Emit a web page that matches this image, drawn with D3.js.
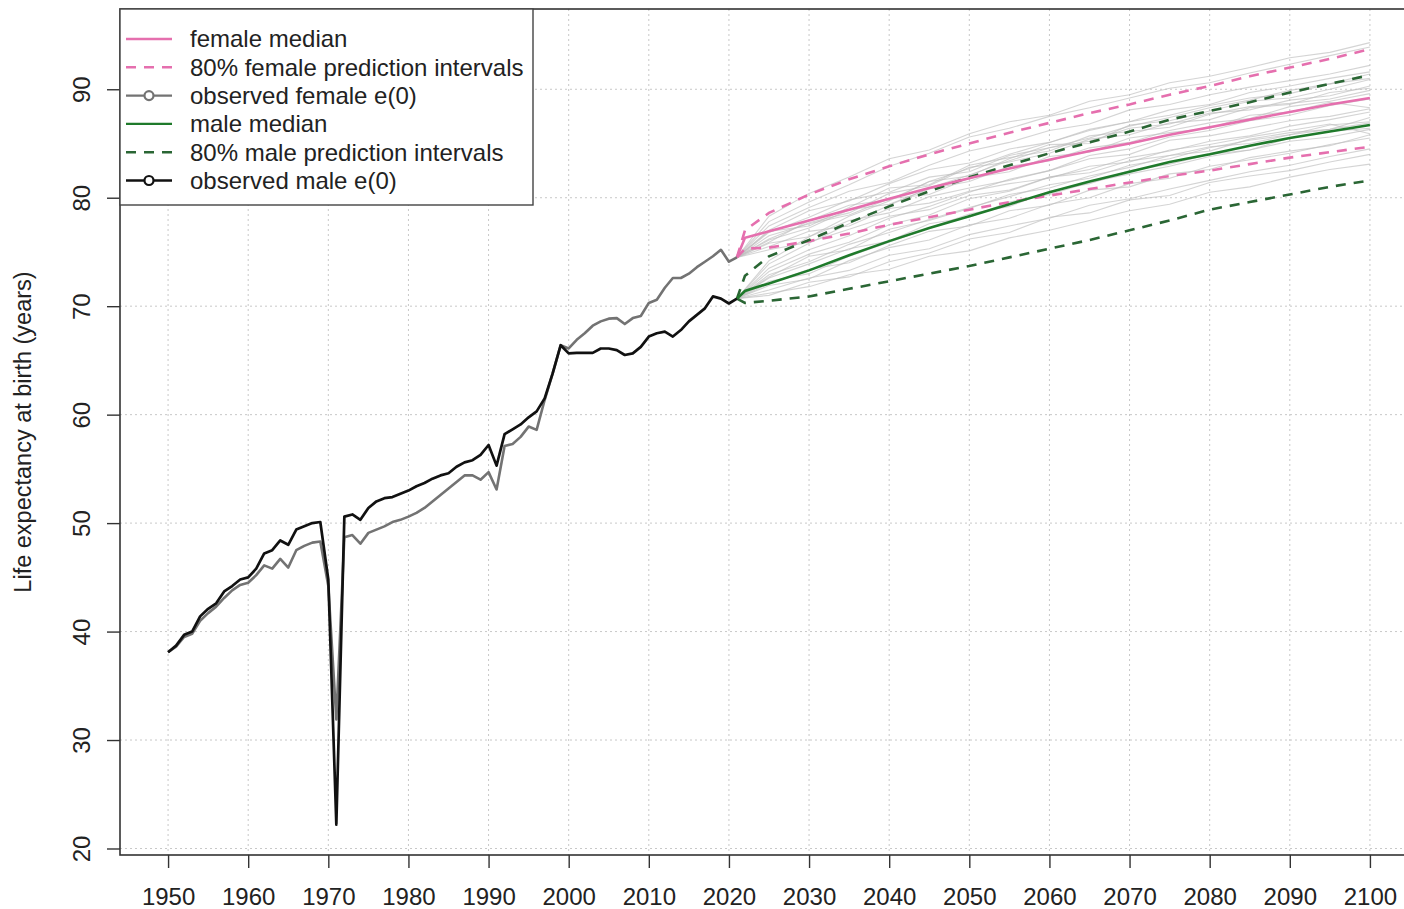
<!DOCTYPE html>
<html>
<head>
<meta charset="utf-8">
<script src="https://cdn.jsdelivr.net/npm/d3@7"></script>
<style>
  html, body { margin: 0; padding: 0; background: #fff; }
  svg text { font-family: "Liberation Sans", Arial, Helvetica, sans-serif; fill: #222; }
</style>
</head>
<body>
<svg id="chart" width="1404" height="909"></svg>
<script>
// ---- observed life expectancy at birth, 1950-2021 ----
const obsYears = d3.range(1950, 2022);
const maleObs = [
  38.1, 38.7, 39.7, 40.0, 41.4, 42.1, 42.6, 43.7, 44.2, 44.8,
  45.0, 45.8, 47.2, 47.5, 48.4, 48.0, 49.4, 49.7, 50.0, 50.1,
  44.8, 22.2, 50.6, 50.8, 50.3, 51.4, 52.0, 52.3, 52.4, 52.7,
  53.0, 53.4, 53.7, 54.1, 54.4, 54.6, 55.2, 55.6, 55.8, 56.3,
  57.2, 55.3, 58.2, 58.65, 59.1, 59.75, 60.3, 61.5, 63.8, 66.4,
  65.65, 65.7, 65.7, 65.7, 66.1, 66.1, 65.95, 65.5, 65.65, 66.25,
  67.2, 67.5, 67.65, 67.2, 67.8, 68.6, 69.2, 69.8, 70.9, 70.7,
  70.25, 70.7
];
const femaleObs = [
  38.1, 38.6, 39.5, 39.8, 41.0, 41.7, 42.3, 43.1, 43.8, 44.3,
  44.5, 45.2, 46.1, 45.8, 46.7, 45.9, 47.5, 47.9, 48.2, 48.3,
  44.2, 31.9, 48.7, 48.9, 48.1, 49.1, 49.4, 49.7, 50.1, 50.3,
  50.6, 50.95, 51.4, 52.0, 52.6, 53.2, 53.8, 54.4, 54.4, 54.0,
  54.7, 53.1, 57.1, 57.3, 57.95, 58.9, 58.6, 61.35, 63.8, 66.4,
  66.1, 66.9, 67.5, 68.2, 68.6, 68.85, 68.9, 68.35, 68.9, 69.1,
  70.3, 70.6, 71.7, 72.6, 72.6, 73.0, 73.6, 74.1, 74.6, 75.2,
  74.1, 74.5
];

// ---- projections: medians and 80% intervals ----
const projYears = [2021, 2022, 2025, 2030, 2035, 2040, 2045, 2050, 2055, 2060,
                   2065, 2070, 2075, 2080, 2085, 2090, 2095, 2100];
const femaleMedian = [74.5, 76.3, 76.9, 77.9, 78.9, 79.9, 80.9, 81.8, 82.7, 83.5,
                      84.3, 85.0, 85.8, 86.5, 87.2, 87.9, 88.6, 89.2];
const femaleLow    = [74.5, 75.3, 75.4, 76.0, 76.7, 77.5, 78.2, 78.9, 79.6, 80.2,
                      80.8, 81.4, 82.0, 82.5, 83.1, 83.7, 84.2, 84.7];
const femaleHigh   = [74.5, 77.0, 78.6, 80.3, 81.7, 82.9, 84.0, 85.0, 86.0, 86.9,
                      87.8, 88.6, 89.5, 90.3, 91.2, 92.0, 92.8, 93.7];
const maleMedian   = [70.7, 71.4, 72.1, 73.3, 74.7, 76.0, 77.2, 78.3, 79.4, 80.5,
                      81.5, 82.4, 83.3, 84.0, 84.8, 85.5, 86.1, 86.7];
const maleLow      = [70.7, 70.3, 70.5, 70.9, 71.6, 72.3, 73.0, 73.7, 74.5, 75.3,
                      76.1, 77.0, 77.9, 78.9, 79.6, 80.3, 81.0, 81.6];
const maleHigh     = [70.7, 72.8, 74.6, 76.1, 77.7, 79.2, 80.6, 81.9, 83.0, 84.1,
                      85.1, 86.1, 87.2, 88.0, 88.8, 89.7, 90.5, 91.3];

// ---- a sample of simulated trajectories ----
const trajYears = [2021, 2025, 2030, 2035, 2040, 2045, 2050, 2055, 2060, 2065,
                   2070, 2075, 2080, 2085, 2090, 2095, 2100];
const femaleTraj = [
  [74.5, 77.8, 79.6, 81.2, 82.9, 84.1, 85.6, 86.4, 87.5, 88.3, 89.2, 90.1, 90.6, 91.5, 92.3, 93.1, 93.9],
  [74.5, 76.1, 77.2, 78.9, 79.4, 80.8, 81.5, 82.9, 83.4, 84.6, 85.1, 86.2, 86.9, 87.3, 88.4, 88.9, 89.6],
  [74.5, 75.2, 75.9, 77.1, 78.3, 78.9, 80.2, 80.7, 81.9, 82.3, 83.4, 83.9, 84.7, 85.0, 85.8, 86.3, 86.9],
  [74.5, 77.0, 78.8, 79.7, 81.3, 82.6, 83.2, 84.5, 85.1, 86.3, 87.0, 87.6, 88.5, 89.2, 89.6, 90.5, 91.0],
  [74.5, 76.5, 77.6, 78.4, 79.9, 80.3, 81.8, 82.4, 83.8, 84.2, 85.5, 86.0, 86.4, 87.6, 87.9, 88.8, 88.3],
  [74.5, 75.8, 76.4, 77.9, 78.6, 80.1, 80.9, 81.6, 82.5, 83.6, 84.0, 85.3, 85.7, 86.4, 87.1, 87.5, 88.2],
  [74.5, 77.4, 79.1, 80.6, 81.4, 83.0, 84.3, 85.1, 86.2, 86.8, 88.1, 88.6, 89.5, 90.2, 90.8, 91.4, 92.2],
  [74.5, 75.5, 76.9, 77.4, 79.0, 79.5, 80.6, 81.3, 81.8, 82.9, 83.3, 84.4, 84.9, 85.6, 86.2, 86.8, 85.9],
  [74.5, 76.8, 78.2, 79.8, 80.5, 81.9, 82.4, 83.9, 84.6, 85.2, 86.4, 86.8, 87.8, 88.1, 89.0, 89.4, 90.3],
  [74.5, 76.2, 77.7, 78.6, 80.4, 81.1, 82.8, 83.3, 84.1, 85.4, 85.8, 86.9, 87.2, 88.3, 88.6, 89.7, 90.1],
  [74.5, 78.3, 80.4, 81.9, 83.6, 84.4, 85.9, 87.0, 87.6, 88.9, 89.5, 90.6, 91.2, 92.0, 92.9, 93.4, 94.3],
  [74.5, 75.9, 77.9, 79.3, 79.8, 81.5, 82.0, 83.6, 84.9, 85.0, 86.7, 87.1, 88.0, 88.9, 89.2, 90.0, 90.9],
  [74.5, 76.9, 77.4, 79.1, 80.9, 81.2, 83.0, 83.7, 84.3, 85.7, 86.1, 86.5, 87.7, 88.4, 88.7, 89.1, 89.9]
];
const maleTraj = [
  [70.7, 73.9, 75.8, 77.6, 79.3, 80.9, 82.1, 83.4, 84.6, 85.5, 86.6, 87.4, 88.3, 89.0, 89.9, 90.5, 91.4],
  [70.7, 71.2, 71.8, 72.9, 73.4, 74.6, 75.1, 76.3, 77.0, 77.9, 78.8, 79.4, 80.5, 81.0, 81.9, 82.6, 83.1],
  [70.7, 72.6, 73.9, 75.3, 76.0, 77.6, 78.2, 79.6, 80.3, 81.4, 82.2, 82.9, 83.8, 84.4, 85.2, 85.6, 86.3],
  [70.7, 71.9, 72.5, 74.2, 75.4, 76.1, 77.5, 78.1, 79.4, 80.0, 81.3, 81.8, 82.9, 83.5, 84.1, 84.9, 85.5],
  [70.7, 73.2, 74.8, 75.9, 77.5, 78.4, 79.9, 80.6, 81.9, 82.6, 83.7, 84.3, 85.2, 85.7, 86.6, 87.2, 87.9],
  [70.7, 72.1, 73.4, 74.0, 75.6, 76.9, 77.4, 78.8, 79.3, 80.7, 81.0, 82.2, 82.6, 83.7, 84.3, 84.8, 85.8],
  [70.7, 72.9, 74.1, 75.7, 76.8, 78.0, 79.1, 80.1, 81.2, 81.8, 83.0, 83.6, 84.6, 85.3, 85.8, 86.7, 87.0],
  [70.7, 71.5, 72.6, 73.3, 74.7, 75.3, 76.6, 77.4, 78.1, 79.3, 79.9, 80.8, 81.6, 82.4, 83.0, 83.8, 84.5],
  [70.7, 73.5, 75.2, 76.5, 78.1, 79.2, 80.5, 81.7, 82.5, 83.9, 84.5, 85.6, 86.2, 87.1, 87.6, 88.5, 89.1],
  [70.7, 72.3, 73.0, 74.6, 75.9, 77.2, 78.5, 79.2, 80.6, 81.3, 82.5, 83.1, 84.0, 84.4, 85.5, 86.1, 86.4],
  [70.7, 74.2, 76.4, 78.3, 79.7, 81.5, 82.7, 84.0, 85.1, 86.2, 87.0, 88.1, 88.6, 89.7, 90.3, 91.0, 91.6],
  [70.7, 71.0, 72.2, 72.7, 74.1, 74.9, 76.2, 76.8, 78.2, 78.6, 79.8, 80.2, 81.4, 82.0, 82.5, 83.3, 84.0],
  [70.7, 72.7, 74.6, 75.2, 77.1, 77.9, 79.0, 80.3, 80.9, 82.0, 82.8, 83.9, 84.3, 85.4, 86.0, 86.3, 87.4]
];

// ---- axes ----
const xTicks = d3.range(1950, 2101, 10);
const yTicks = d3.range(20, 91, 10);
const yTitle = "Life expectancy at birth (years)";

const legendItems = [
  { label: "female median",                   color: "#e56fae", dash: null,   marker: false },
  { label: "80% female prediction intervals", color: "#e56fae", dash: "10,8", marker: false },
  { label: "observed female e(0)",            color: "#737373", dash: null,   marker: true  },
  { label: "male median",                     color: "#1f7a2b", dash: null,   marker: false },
  { label: "80% male prediction intervals",   color: "#2a6634", dash: "10,8", marker: false },
  { label: "observed male e(0)",              color: "#111111", dash: null,   marker: true  }
];

// ---- layout ----
const svg = d3.select("#chart");
const plot = { left: 120, right: 1418, top: 9, bottom: 855 };
const x = d3.scaleLinear().domain([1944, 2106]).range([plot.left, plot.right]);
const y = d3.scaleLinear().domain([19.4, 97.4]).range([plot.bottom, plot.top]);

svg.append("defs").append("clipPath").attr("id", "plotClip")
  .append("rect")
  .attr("x", plot.left).attr("y", plot.top)
  .attr("width", plot.right - plot.left).attr("height", plot.bottom - plot.top);

// dotted grid
const grid = svg.append("g").attr("stroke", "#c8c8c8").attr("stroke-width", 1)
  .attr("stroke-dasharray", "2,3");
grid.selectAll("line.v").data(xTicks).join("line").attr("class", "v")
  .attr("x1", d => x(d)).attr("x2", d => x(d))
  .attr("y1", plot.top).attr("y2", plot.bottom);
grid.selectAll("line.h").data(yTicks).join("line").attr("class", "h")
  .attr("x1", plot.left).attr("x2", plot.right)
  .attr("y1", d => y(d)).attr("y2", d => y(d));

const data = svg.append("g").attr("clip-path", "url(#plotClip)");
const line = d3.line().x(d => x(d[0])).y(d => y(d[1]));
const pairs = (years, vals) => years.map((yr, i) => [yr, vals[i]]);

// trajectories
femaleTraj.concat(maleTraj).forEach(tr => {
  data.append("path").attr("d", line(pairs(trajYears, tr)))
    .attr("fill", "none").attr("stroke", "#bdbdbd").attr("stroke-opacity", 0.65)
    .attr("stroke-width", 1.1);
});

// prediction intervals
[[femaleLow, "#e56fae"], [femaleHigh, "#e56fae"], [maleLow, "#2a6634"], [maleHigh, "#2a6634"]]
  .forEach(([vals, col]) => {
    data.append("path").attr("d", line(pairs(projYears, vals)))
      .attr("fill", "none").attr("stroke", col).attr("stroke-width", 2.6)
      .attr("stroke-dasharray", "10,8");
  });

// medians
[[femaleMedian, "#e56fae"], [maleMedian, "#1f7a2b"]].forEach(([vals, col]) => {
  data.append("path").attr("d", line(pairs(projYears, vals)))
    .attr("fill", "none").attr("stroke", col).attr("stroke-width", 2.6);
});

// observed
data.append("path").attr("d", line(pairs(obsYears, femaleObs)))
  .attr("fill", "none").attr("stroke", "#737373").attr("stroke-width", 2.6)
  .attr("stroke-linejoin", "round");
data.append("path").attr("d", line(pairs(obsYears, maleObs)))
  .attr("fill", "none").attr("stroke", "#111111").attr("stroke-width", 2.7)
  .attr("stroke-linejoin", "round");

// plot box
svg.append("rect")
  .attr("x", plot.left).attr("y", plot.top)
  .attr("width", plot.right - plot.left).attr("height", plot.bottom - plot.top)
  .attr("fill", "none").attr("stroke", "#333").attr("stroke-width", 1.6);

// x axis
const xAxis = svg.append("g").attr("transform", `translate(0,${plot.bottom})`)
  .call(d3.axisBottom(x).tickValues(xTicks).tickFormat(d3.format("d"))
    .tickSize(13).tickPadding(20));
xAxis.select(".domain").remove();
xAxis.selectAll(".tick line").attr("stroke", "#333").attr("stroke-width", 1.4);
xAxis.selectAll(".tick text").attr("font-size", 24).attr("fill", "#222")
  .attr("font-family", "Liberation Sans, Arial, sans-serif");

// y axis with labels rotated parallel to the axis
const yAxis = svg.append("g").attr("transform", `translate(${plot.left},0)`)
  .call(d3.axisLeft(y).tickValues(yTicks).tickSize(13).tickFormat(d3.format("d")));
yAxis.select(".domain").remove();
yAxis.selectAll(".tick line").attr("stroke", "#333").attr("stroke-width", 1.4);
yAxis.selectAll(".tick text")
  .attr("font-size", 24).attr("fill", "#222")
  .attr("font-family", "Liberation Sans, Arial, sans-serif")
  .attr("x", null).attr("dy", null)
  .attr("text-anchor", "middle")
  .attr("transform", "translate(-30,0) rotate(-90)");

svg.append("text")
  .attr("transform", `translate(31,${(plot.top + plot.bottom) / 2}) rotate(-90)`)
  .attr("text-anchor", "middle")
  .attr("font-size", 23.5)
  .text(yTitle);

// legend
const leg = svg.append("g");
const legW = 413, legH = 196, rowH = 28.3, row0 = 39;
leg.append("rect").attr("x", plot.left).attr("y", plot.top)
  .attr("width", legW).attr("height", legH)
  .attr("fill", "#fff").attr("stroke", "#444").attr("stroke-width", 1.4);
legendItems.forEach((it, i) => {
  const cy = row0 + i * rowH;
  leg.append("line").attr("x1", 126).attr("x2", 172).attr("y1", cy).attr("y2", cy)
    .attr("stroke", it.color).attr("stroke-width", 2.4)
    .attr("stroke-dasharray", it.dash);
  if (it.marker) {
    leg.append("circle").attr("cx", 149).attr("cy", cy).attr("r", 4.5)
      .attr("fill", "#fff").attr("stroke", it.color).attr("stroke-width", 2.2);
  }
  leg.append("text").attr("x", 190).attr("y", cy).attr("dy", "0.35em")
    .attr("font-size", 24).text(it.label);
});
</script>
</body>
</html>
